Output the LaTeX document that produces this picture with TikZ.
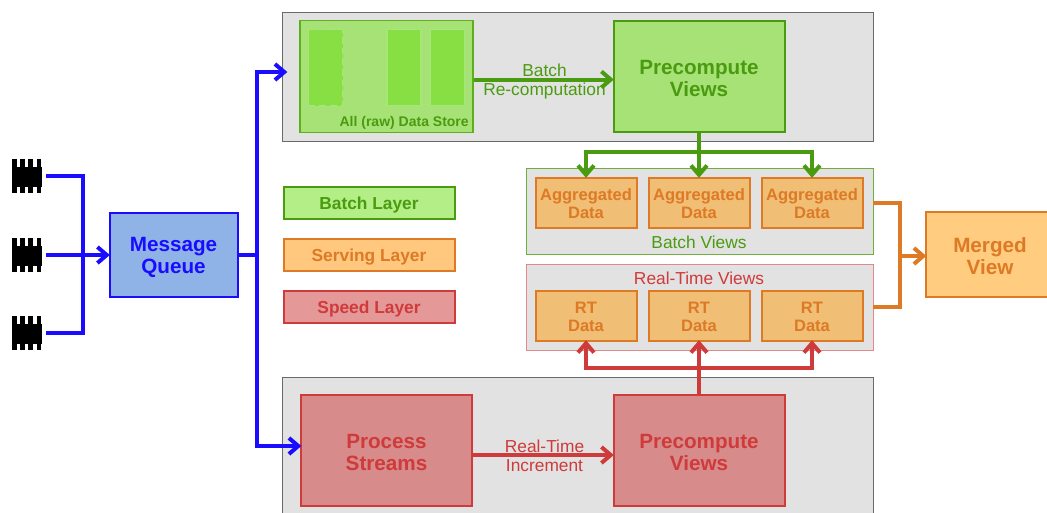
\documentclass[tikz,border=0pt]{standalone}
\usepackage{fontspec}
\setmainfont{Liberation Sans}
\usetikzlibrary{arrows.meta}
\definecolor{gpanel}{HTML}{E2E2E2}
\definecolor{gbd}{HTML}{6A6A6A}
\definecolor{grn}{HTML}{4B9B10}
\definecolor{grnthin}{HTML}{5FAE20}
\definecolor{grnfill}{HTML}{A6E276}
\definecolor{grnin}{HTML}{88DF44}
\definecolor{grnedge}{HTML}{A5E878}
\definecolor{lgrn}{HTML}{B4EE86}
\definecolor{lorg}{HTML}{FFC87E}
\definecolor{lred}{HTML}{E59898}
\definecolor{org}{HTML}{DD7A26}
\definecolor{orgfill}{HTML}{F0BE74}
\definecolor{mrg}{HTML}{FFCC80}
\definecolor{red1}{HTML}{CF3A3A}
\definecolor{redfill}{HTML}{D88B8B}
\definecolor{blu}{HTML}{1A0DFF}
\definecolor{blufill}{HTML}{8FB3E6}
\newcommand{\T}[1][3pt]{\rule{0pt}{\dimexpr.72em+#1\relax}}
\tikzset{
 x=0.75pt,y=-0.75pt,
 panel/.style={draw=gbd,fill=gpanel,line width=0.7pt,minimum width=591*0.75pt,inner sep=0},
 box/.style={rectangle,inner sep=0,align=center,font=\fontsize{15.5}{16.5}\selectfont\bfseries},
 greenbox/.style={box,draw=grn,fill=grnfill,text=grn,line width=1.5pt},
 redbox/.style={box,draw=red1,fill=redfill,text=red1,line width=1.5pt},
 orangebox/.style={box,draw=org,fill=orgfill,text=org,line width=1.5pt,minimum width=101*0.75pt,minimum height=50*0.75pt,font=\fontsize{12.4}{13.4}\selectfont\bfseries},
 legend/.style={box,line width=1.5pt,minimum width=171*0.75pt,minimum height=32*0.75pt,font=\fontsize{13}{14}\selectfont\bfseries},
 lbl/.style={align=center,inner sep=0,font=\fontsize{13}{14.5}\selectfont},
 wire/.style={line width=3pt,line join=miter},
 tip/.style={-{Straight Barb[length=7pt,width=12pt,line width=3pt]},shorten >=-1pt},
 inbar/.style={fill=grnin,draw=grnedge,line width=1pt,minimum width=34*0.75pt,minimum height=76*0.75pt,inner sep=0},
}
\newcommand{\chip}[2]{%
 \node[fill=black,inner sep=0,minimum width=30*0.75pt,minimum height=20*0.75pt] (#1) at (27,#2+1) {};
 \foreach \tx in {12,20.2,28.4,36.8}{
  \fill[black] (\tx,#2-17) rectangle ++(4.5,34);
 }
}
\begin{document}
\begin{tikzpicture}
\useasboundingbox (0,0) rectangle (1047,512);
% panels
\node[panel,minimum height=129*0.75pt] (top) at (577.5,76.5) {};
\node[panel,minimum height=136*0.75pt,anchor=north] (bot) at (577.5,377) {};
% raw store
\node[box,draw=grnthin,fill=grnfill,line width=0.8pt,minimum width=173*0.75pt,minimum height=112*0.75pt] (store) at (386.5,76.5) {};
\node[inbar,dash pattern=on 5pt off 3pt] (b1) at (325.5,67.5) {};
\node[inbar] (b2) at (404,67.5) {};
\node[inbar] (b3) at (447.5,67.5) {};
\node[anchor=south east,inner sep=0,text=grn,font=\fontsize{10.5}{11}\selectfont\bfseries] (storelbl) at (469,130) {All (raw) Data Store};
\node[greenbox,minimum width=171*0.75pt,minimum height=111*0.75pt] (pcb) at (699,76) {\T Precompute\\Views};
\node[lbl,text=grn] (l1) at (544.5,81.5) {Batch\\Re-computation};
\draw[wire,tip,grn] (store.east|-pcb.center) ++(0,3.5) coordinate (s0) -- (s0-|pcb.west);
% speed
\node[redbox,minimum width=171*0.75pt,minimum height=111*0.75pt] (ps) at (386.5,450) {\T Process\\Streams};
\node[redbox,minimum width=171*0.75pt,minimum height=111*0.75pt] (pcs) at (699,450) {\T Precompute\\Views};
\node[lbl,text=red1] (l2) at (544.5,455.5) {Real-Time\\Increment};
\draw[wire,tip,red1] (ps.east|-0,455) coordinate (r0) -- (r0-|pcs.west);
% view groups
\node[draw=grn!80!white,fill=gpanel,line width=0.6pt,minimum width=347*0.75pt,minimum height=86*0.75pt,inner sep=0] (bv) at (699.5,211) {};
\node[draw=red1!60!white,fill=gpanel,line width=0.6pt,minimum width=347*0.75pt,minimum height=86*0.75pt,inner sep=0] (rv) at (699.5,307) {};
\node[lbl,text=grn] (bvl) at (699,242) {Batch Views};
\node[lbl,text=red1] (rvl) at (699,278) {Real-Time Views};
\foreach \n/\x in {1/586,2/699,3/812}{
 \node[orangebox] (ag\n) at (\x,202.5) {\T[1.5pt]Aggregated\\Data};
 \node[orangebox] (rt\n) at (\x,315.5) {\T[1.5pt]RT\\Data};
}
% green arrows
\coordinate (gj) at (0,152);
\draw[wire,grn] (pcb.south) -- (pcb.south|-gj);
\draw[wire,tip,grn] (pcb.south) -- (ag2.north);
\draw[wire,tip,grn] (pcb.south|-gj) -| (ag1.north);
\draw[wire,tip,grn] (pcb.south|-gj) -| (ag3.north);
% red arrows
\coordinate (rj) at (0,368);
\draw[wire,tip,red1] (pcs.north) -- (rt2.south);
\draw[wire,tip,red1] (pcs.north|-rj) -| (rt1.south);
\draw[wire,tip,red1] (pcs.north|-rj) -| (rt3.south);
% merged
\node[box,draw=org,fill=mrg,text=org,line width=1.5pt,minimum width=128*0.75pt,minimum height=85*0.75pt] (mv) at (990,254.5) {\T Merged\\View};
\coordinate (mj) at (900,256);
\draw[wire,org] (bv.east|-0,203) -- (900,203) -- (mj);
\draw[wire,org] (rv.east|-0,307) -- (900,307) -- (mj);
\draw[wire,tip,org] (mj) -- (mj-|mv.west);
% legend
\node[legend,draw=grn,fill=lgrn,text=grn] (lg1) at (369,203) {\T Batch Layer};
\node[legend,draw=org,fill=lorg,text=org] (lg2) at (369,255) {\T Serving Layer};
\node[legend,draw=red1,fill=lred,text=red1] (lg3) at (369,307) {\T Speed Layer};
% queue
\node[box,draw=blu,fill=blufill,text=blu,line width=1.5pt,minimum width=128*0.75pt,minimum height=84*0.75pt] (mq) at (173.5,255) {\T[3.5pt]Message\\Queue};
% chips
\chip{c1}{176}
\chip{c2}{255}
\chip{c3}{333}
\coordinate (cj) at (83,255);
\draw[wire,blu] (46,176) -| (cj);
\draw[wire,blu] (46,333) -| (cj);
\draw[wire,tip,blu] (46,255) -- (mq.west);
% queue out
\coordinate (qj) at (257,255);
\draw[wire,blu] (mq.east) -- (qj);
\draw[wire,tip,blu] (qj) |- (286,72);
\draw[wire,tip,blu] (qj) |- (ps.west|-0,446);
\end{tikzpicture}
\end{document}
